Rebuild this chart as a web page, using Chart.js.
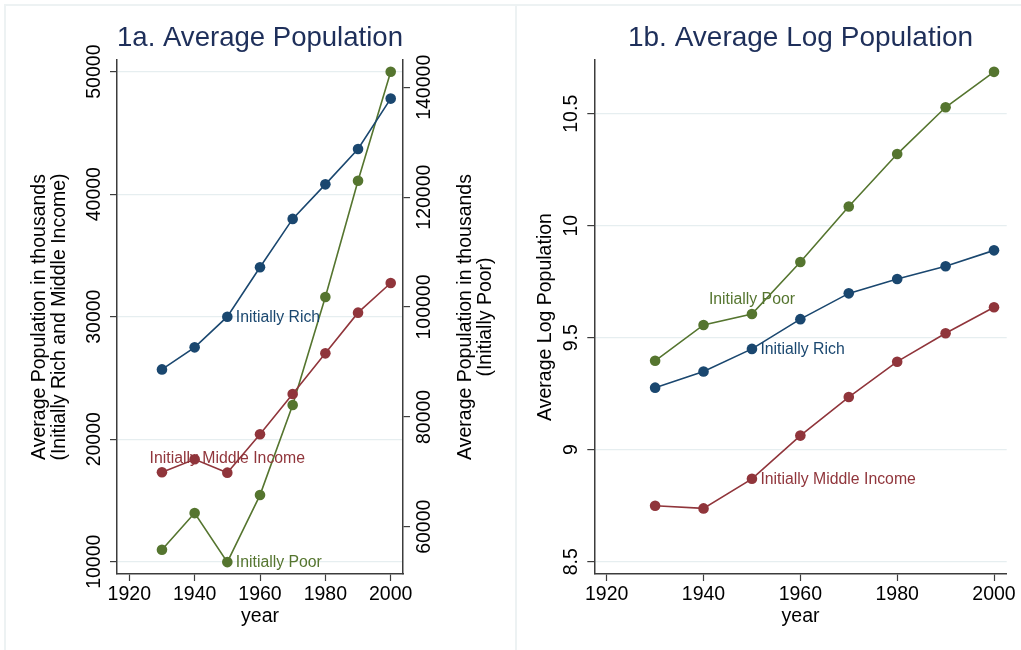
<!DOCTYPE html>
<html>
<head>
<meta charset="utf-8">
<script src="https://cdn.jsdelivr.net/npm/chart.js@4.4.1/dist/chart.umd.min.js"></script>
<style>
  body { margin: 0; background: #fff; }
  #wrap { position: relative; width: 1021px; height: 650px; overflow: hidden; }
  .frame { position: absolute; background: #edf2f3; }
  canvas { position: absolute; top: 0; }
</style>
</head>
<body>
<div id="wrap">
  <div class="frame" style="left:4px;top:4px;width:1017px;height:2px"></div>
  <div class="frame" style="left:4px;top:4px;width:2px;height:646px"></div>
  <div class="frame" style="left:515px;top:4px;width:2px;height:646px"></div>
  <canvas id="popChart" width="516" height="650" style="left:0"></canvas>
  <canvas id="logChart" width="505" height="650" style="left:516px"></canvas>
</div>
<script>
// data
const years = [1930, 1940, 1950, 1960, 1970, 1980, 1990, 2000];
const richPop = [25700, 27500, 30000, 34030, 37980, 40800, 43690, 47800];
const middlePop = [17300, 18360, 17270, 20400, 23690, 27010, 30330, 32750];
const poorPop = [55810, 62490, 53570, 65770, 82160, 101820, 123000, 142840];
const logRich = [9.277, 9.349, 9.45, 9.583, 9.698, 9.762, 9.819, 9.89];
const logMiddle = [8.75, 8.738, 8.87, 9.063, 9.235, 9.393, 9.52, 9.636];
const logPoor = [9.397, 9.557, 9.606, 9.838, 10.086, 10.32, 10.529, 10.687];

const yearTicks = [1920, 1940, 1960, 1980, 2000];
const popTicks = [10000, 20000, 30000, 40000, 50000];
const poorTicks = [60000, 80000, 100000, 120000, 140000];
const logTicks = [8.5, 9, 9.5, 10, 10.5];

const navy = '#1a476f';
const maroon = '#90353b';
const green = '#55752f';
const axisColor = '#3c3c3c';
const gridColor = '#e6eef0';
const FONT = '"Liberation Sans", Arial, sans-serif';

const pts = arr => arr.map((v, i) => ({x: years[i], y: v}));
const fixTicks = list => s => { s.ticks = list.map(v => ({value: v})); };

function series(label, values, color, axis) {
    return {
        label: label,
        data: pts(values),
        yAxisID: axis,
        borderColor: color,
        backgroundColor: color,
        pointBackgroundColor: color,
        borderWidth: 1.6,
        pointRadius: 5.3,
        pointBorderWidth: 0,
        tension: 0
    };
}

// labels next to the 1950 points
const seriesLabels = {
    id: 'seriesLabels',
    afterDatasetsDraw(chart, args, opts) {
        const ctx = chart.ctx;
        ctx.save();
        ctx.font = '15.8px ' + FONT;
        ctx.textBaseline = 'middle';
        opts.items.forEach(it => {
            const pt = chart.getDatasetMeta(it.ds).data[it.idx];
            ctx.fillStyle = chart.data.datasets[it.ds].borderColor;
            if (it.pos === 'right') {
                ctx.textAlign = 'left';
                ctx.fillText(it.text, pt.x + 8.5, pt.y + 0.5);
            } else {
                ctx.textAlign = 'center';
                ctx.fillText(it.text, pt.x, pt.y - 14);
            }
        });
        ctx.restore();
    }
};

// vertical tick labels and the right-hand axis title
const verticalText = {
    id: 'verticalText',
    afterDraw(chart, args, opts) {
        const ctx = chart.ctx;
        ctx.save();
        ctx.fillStyle = '#000';
        ctx.font = '19.5px ' + FONT;
        ctx.textAlign = 'center';
        opts.axes.forEach(a => {
            const scale = chart.scales[a.id];
            ctx.textBaseline = 'alphabetic';
            scale.ticks.forEach(t => {
                ctx.save();
                ctx.translate(a.baseline, scale.getPixelForValue(t.value));
                ctx.rotate(-Math.PI / 2);
                ctx.fillText(String(t.value), 0, 0);
                ctx.restore();
            });
            if (a.title) {
                ctx.textBaseline = 'middle';
                const yMid = (scale.top + scale.bottom) / 2;
                a.title.forEach((line, i) => {
                    ctx.save();
                    ctx.translate(a.titleX + i * 20, yMid);
                    ctx.rotate(-Math.PI / 2);
                    ctx.fillText(line, 0, 0);
                    ctx.restore();
                });
            }
        });
        ctx.restore();
    }
};

const tickFont = {family: FONT, size: 19.5};
const titleFont = {family: FONT, size: 19.5, lineHeight: 1.05};

function xScale(min, max) {
    return {
        type: 'linear',
        min: min,
        max: max,
        afterBuildTicks: fixTicks(yearTicks),
        afterFit: s => { s.height = 76; },
        grid: {drawOnChartArea: false, tickLength: 7, tickColor: axisColor, tickWidth: 1.2},
        border: {color: axisColor, width: 1.5},
        ticks: {font: tickFont, color: '#000', padding: 2, maxRotation: 0, callback: v => String(v)},
        title: {display: true, text: 'year', font: {family: FONT, size: 19.5, lineHeight: 1.2}, color: '#000', padding: {top: 0, bottom: 22}}
    };
}

function yScale(pos, min, max, list, width, grid, title, pad) {
    return {
        type: 'linear',
        position: pos,
        min: min,
        max: max,
        afterBuildTicks: fixTicks(list),
        afterFit: s => { s.width = width; },
        grid: {display: true, drawOnChartArea: grid, color: gridColor, lineWidth: 1.2, tickLength: 7, tickColor: axisColor, tickWidth: 1.2},
        border: {color: axisColor, width: 1.5},
        ticks: {font: tickFont, color: 'rgba(0,0,0,0)', minRotation: 90, maxRotation: 90},
        title: title ? {display: true, text: title, font: titleFont, color: '#000', padding: {top: pad, bottom: 0}} : {display: false}
    };
}

function chartTitle(text) {
    return {
        display: true,
        text: text,
        fullSize: false,
        color: '#1e2f5a',
        font: {family: FONT, size: 28, weight: 'normal', lineHeight: 1.2},
        padding: {top: 21.5, bottom: 4.9}
    };
}

// 1a. Average Population
new Chart(document.getElementById('popChart'), {
    type: 'line',
    data: {
        datasets: [
            series('Initially Rich', richPop, navy, 'y'),
            series('Initially Middle Income', middlePop, maroon, 'y'),
            series('Initially Poor', poorPop, green, 'y2')
        ]
    },
    options: {
        responsive: false,
        animation: false,
        layout: {padding: 0},
        scales: {
            x: xScale(1916.24, 2003.76),
            y: yScale('left', 9000, 50950, popTicks, 117, true,
                ['Average Population in thousands', '(Initially Rich and Middle Income)'], 29),
            y2: yScale('right', 51400, 144970, poorTicks, 113, false, null, 0)
        },
        plugins: {
            legend: {display: false},
            tooltip: {enabled: false},
            title: chartTitle('1a. Average Population'),
            seriesLabels: {items: [
                {ds: 0, idx: 2, text: 'Initially Rich', pos: 'right'},
                {ds: 1, idx: 2, text: 'Initially Middle Income', pos: 'above'},
                {ds: 2, idx: 2, text: 'Initially Poor', pos: 'right'}
            ]},
            verticalText: {axes: [
                {id: 'y', baseline: 99.5},
                {id: 'y2', baseline: 430, titleX: 465.5,
                    title: ['Average Population in thousands', '(Initially Poor)']}
            ]}
        }
    },
    plugins: [seriesLabels, verticalText]
});

// 1b. Average Log Population
new Chart(document.getElementById('logChart'), {
    type: 'line',
    data: {
        datasets: [
            series('Initially Rich', logRich, navy, 'y'),
            series('Initially Middle Income', logMiddle, maroon, 'y'),
            series('Initially Poor', logPoor, green, 'y')
        ]
    },
    options: {
        responsive: false,
        animation: false,
        layout: {padding: {left: 0, right: 14.3, top: 0, bottom: 0}},
        scales: {
            x: xScale(1917.44, 2002.62),
            y: yScale('left', 8.445, 10.74, logTicks, 78.3, true, 'Average Log Population', 19.7)
        },
        plugins: {
            legend: {display: false},
            tooltip: {enabled: false},
            title: chartTitle('1b. Average Log Population'),
            seriesLabels: {items: [
                {ds: 0, idx: 2, text: 'Initially Rich', pos: 'right'},
                {ds: 1, idx: 2, text: 'Initially Middle Income', pos: 'right'},
                {ds: 2, idx: 2, text: 'Initially Poor', pos: 'above'}
            ]},
            verticalText: {axes: [
                {id: 'y', baseline: 61}
            ]}
        }
    },
    plugins: [seriesLabels, verticalText]
});
</script>
</body>
</html>
